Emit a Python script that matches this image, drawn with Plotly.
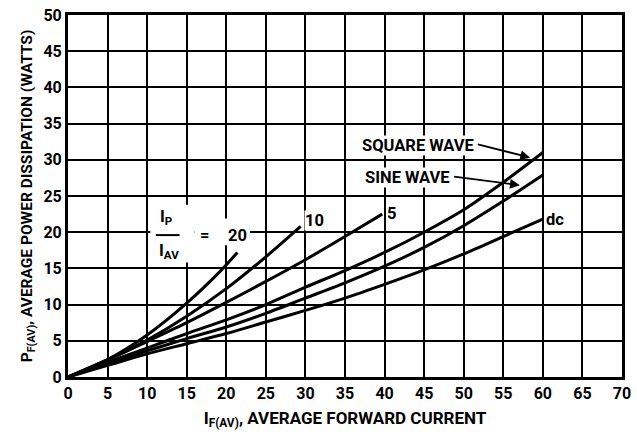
import plotly.graph_objects as go

# ---- data ----
x_common = [0, 5, 10, 15, 20, 25, 30, 35, 40, 45, 50, 55, 60]
p_dc = [0, 1.6, 3.2, 4.6, 6.0, 7.6, 9.2, 10.9, 12.8, 14.8, 17.0, 19.4, 21.8]
p_sine = [0, 1.8, 3.6, 5.3, 6.9, 8.8, 10.9, 13.0, 15.3, 17.9, 20.9, 24.3, 27.9]
p_square = [0, 2.0, 4.0, 6.0, 7.9, 10.0, 12.4, 14.7, 17.2, 20.0, 23.1, 26.9, 31.0]

x_r5 = [0, 5, 10, 15, 20, 25, 30, 35, 39.7]
p_r5 = [0, 2.4, 4.9, 7.5, 10.3, 13.2, 16.2, 19.4, 22.5]
x_r10 = [0, 5, 10, 15, 20, 25, 29.4]
p_r10 = [0, 2.3, 5.1, 8.4, 12.2, 16.6, 20.8]
x_r20 = [0, 5, 10, 15, 19.4, 21.4]
p_r20 = [0, 2.4, 5.8, 10.2, 14.8, 17.2]

x_ticks = list(range(0, 75, 5))
y_ticks = list(range(0, 55, 5))

FONT = "Roboto, Liberation Sans, sans-serif"

fig = go.Figure()
series = [
    ("dc", x_common, p_dc),
    ("sine", x_common, p_sine),
    ("square", x_common, p_square),
    ("5", x_r5, p_r5),
    ("10", x_r10, p_r10),
    ("20", x_r20, p_r20),
]
for name, xs, ys in series:
    fig.add_trace(go.Scatter(
        x=xs, y=ys, mode="lines", name=name,
        line=dict(color="black", width=3, shape="spline", smoothing=0.8),
        showlegend=False, hoverinfo="skip",
    ))

# white patches behind the Ip/IAV = 20 label (between grid and traces)
fig.add_shape(type="rect", x0=10.4, x1=16.0, y0=15.8, y1=23.8, xref="x", yref="y",
              fillcolor="white", line=dict(width=0), layer="between")
fig.add_shape(type="rect", x0=16.0, x1=23.0, y0=18.2, y1=21.9, xref="x", yref="y",
              fillcolor="white", line=dict(width=0), layer="between")

ann_font = dict(family=FONT, size=16.5, color="black", weight="bold")
labels = [
    ("SQUARE WAVE", 44.2, 32.0, "center", True),
    ("SINE WAVE", 42.9, 27.6, "center", True),
    ("dc", 60.3, 21.7, "left", True),
    ("5", 40.2, 22.6, "left", True),
    ("10", 29.8, 21.6, "left", True),
    ("20", 21.4, 19.6, "center", False),
    ("=", 17.3, 19.6, "center", False),
]
for text, x, y, anchor, bg in labels:
    fig.add_annotation(x=x, y=y, text=text, showarrow=False, xanchor=anchor,
                       yanchor="middle", font=ann_font,
                       bgcolor="white" if bg else "rgba(0,0,0,0)",
                       borderpad=0)

# fraction I_P / I_AV
fig.add_annotation(x=12.5, y=22.0, text="I<sub>P</sub>", showarrow=False,
                   font=ann_font, xanchor="center", yanchor="middle")
fig.add_annotation(x=12.7, y=17.4, text="I<sub>AV</sub>", showarrow=False,
                   font=ann_font, xanchor="center", yanchor="middle")
fig.add_shape(type="line", x0=11.1, x1=14.1, y0=19.6, y1=19.6,
              line=dict(color="black", width=2), layer="above")

# arrows
arrows = [
    (51.6, 32.2, 58.4, 30.3),
    (48.6, 27.7, 57.1, 26.5),
]
for ax, ay, x, y in arrows:
    fig.add_annotation(x=x, y=y, ax=ax, ay=ay, xref="x", yref="y",
                       axref="x", ayref="y", text="", showarrow=True,
                       arrowhead=2, arrowsize=1.1, arrowwidth=1.8,
                       arrowcolor="black")

tick_font = dict(family=FONT, size=16, color="black", weight="bold")
axis_common = dict(
    showgrid=True, gridcolor="black", gridwidth=2,
    showline=True, linecolor="black", linewidth=3, mirror=True,
    zeroline=False, ticks="", tickfont=tick_font, automargin=False,
)
fig.update_xaxes(range=[0, 70], tickvals=x_ticks, ticktext=[str(v) for v in x_ticks],
                 title=dict(text="I<sub>F(AV)</sub>, AVERAGE FORWARD CURRENT",
                            font=dict(family=FONT, size=17, color="black", weight="bold"),
                            standoff=10),
                 **axis_common)
fig.update_yaxes(range=[0, 50], tickvals=y_ticks, ticktext=[str(v) for v in y_ticks],
                 title=dict(text="P<sub>F(AV)</sub>, AVERAGE POWER DISSIPATION (WATTS)",
                            font=dict(family=FONT, size=15.5, color="black", weight="bold"),
                            standoff=8),
                 **axis_common)

fig.update_layout(
    width=637, height=436,
    margin=dict(l=68, r=15, t=15, b=59),
    plot_bgcolor="white", paper_bgcolor="white",
    font=dict(family=FONT, color="black"),
)

fig.write_html("out.html", config={"displayModeBar": False},
               post_script="document.body.style.margin='0';document.body.style.overflow='hidden';")
